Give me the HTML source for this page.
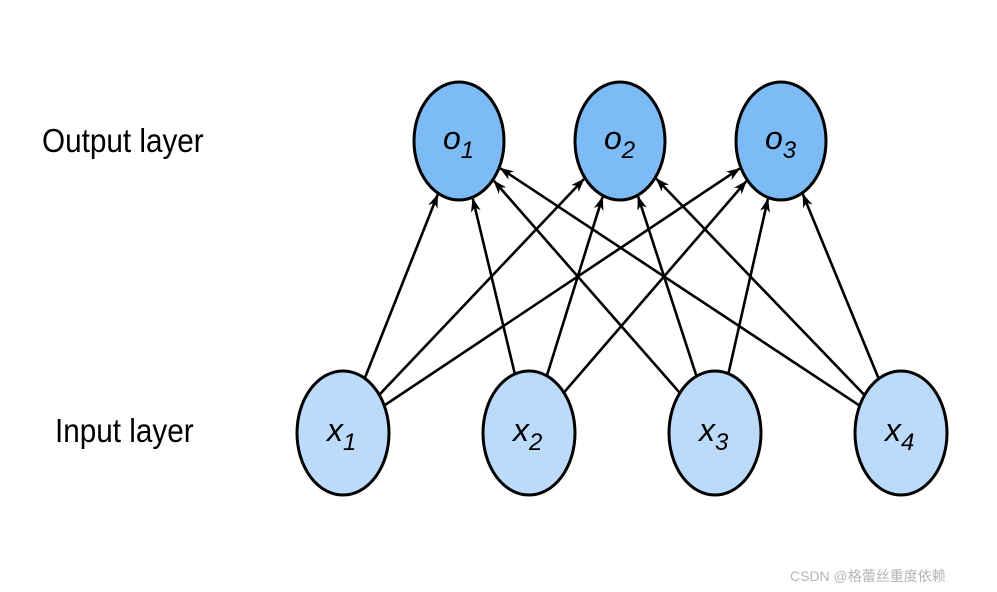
<!DOCTYPE html>
<html><head><meta charset="utf-8"><style>
body{margin:0;background:#fff;width:997px;height:592px;overflow:hidden}
svg{display:block}
</style></head><body>
<svg id="s" width="997" height="592" viewBox="0 0 997 592" xmlns="http://www.w3.org/2000/svg">
<defs>
<marker id="a" markerWidth="14" markerHeight="10" refX="13" refY="5" orient="auto" markerUnits="userSpaceOnUse">
<path d="M0,0 L14,5 L0,10 L4,5 Z" fill="#000"/>
</marker>
</defs>
<g id="edges" stroke="#000" stroke-width="2.6"></g>
<g id="nodes" stroke="#000" stroke-width="3"></g>
<text x="42" y="152" font-family="Liberation Sans, sans-serif" font-size="33" transform="translate(42 0) scale(0.9 1) translate(-42 0)">Output layer</text>
<text x="55" y="442" font-family="Liberation Sans, sans-serif" font-size="33" transform="translate(55 0) scale(0.9 1) translate(-55 0)">Input layer</text>
<text x="790" y="581" font-family="Liberation Sans, 'Noto Sans CJK SC', sans-serif" font-size="14" fill="#b5b5b5">CSDN @格蕾丝重度依赖</text>
</svg>
<script>
var O=[[459,141],[620,141],[781,141]],X=[[343,433],[529,433],[715,433],[901,433]];
var orx=45,ory=59,irx=46,iry=62,ns="http://www.w3.org/2000/svg";
var E=document.getElementById('edges'),N=document.getElementById('nodes');
function clip(c,d,rx,ry){var t=1/Math.sqrt((d[0]*d[0])/(rx*rx)+(d[1]*d[1])/(ry*ry));return[c[0]+d[0]*t,c[1]+d[1]*t];}
X.forEach(function(x){O.forEach(function(o){
var d=[o[0]-x[0],o[1]-x[1]];
var p=clip(x,d,irx,iry),q=clip(o,[-d[0],-d[1]],orx+1.5,ory+1.5);
var l=document.createElementNS(ns,'line');
l.setAttribute('x1',p[0]);l.setAttribute('y1',p[1]);l.setAttribute('x2',q[0]);l.setAttribute('y2',q[1]);
l.setAttribute('marker-end','url(#a)');E.appendChild(l);});});
function node(c,rx,ry,fill,letter,sub){
var e=document.createElementNS(ns,'ellipse');
e.setAttribute('cx',c[0]);e.setAttribute('cy',c[1]);e.setAttribute('rx',rx);e.setAttribute('ry',ry);e.setAttribute('fill',fill);N.appendChild(e);
var t=document.createElementNS(ns,'text');
t.setAttribute('x',c[0]-16);t.setAttribute('y',c[1]+8);
t.setAttribute('font-family','Liberation Sans, sans-serif');t.setAttribute('font-size','32');t.setAttribute('font-style','italic');t.setAttribute('stroke','none');
t.textContent=letter;
var ts=document.createElementNS(ns,'tspan');ts.setAttribute('font-size','24');ts.setAttribute('dy','9');ts.textContent=sub;t.appendChild(ts);
N.appendChild(t);}
O.forEach(function(o,i){node(o,orx,ory,'#7dbbf6','o',i+1);});
X.forEach(function(x,i){node(x,irx,iry,'#bcdafa','x',i+1);});
</script>
</body></html>
